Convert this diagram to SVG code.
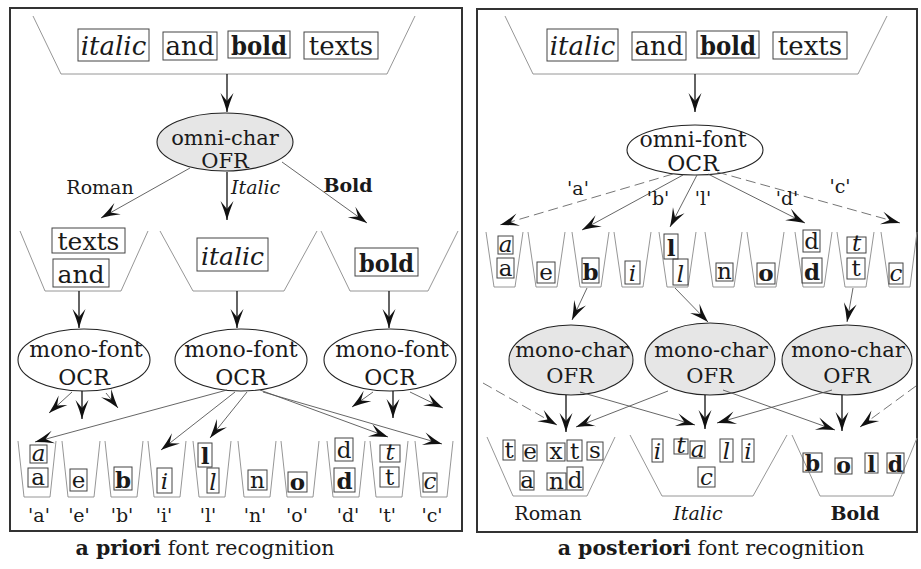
<svg xmlns="http://www.w3.org/2000/svg" width="921" height="569" viewBox="0 0 921 569">
<defs>
<style>
text{font-family:"DejaVu Serif","Liberation Serif",serif;fill:#1a1a1a;text-anchor:middle}
.it{font-style:italic}
.bd{font-weight:bold}
.frame{fill:none;stroke:#333;stroke-width:2}
.trap{fill:none;stroke:#8a8a8a;stroke-width:0.9}
.box{fill:none;stroke:#444;stroke-width:1}
.ov{fill:#fff;stroke:#222;stroke-width:1.1}
.ovg{fill:#e6e6e6;stroke:#222;stroke-width:1.1}
.c{fill:none;stroke:#555;stroke-width:0.9;marker-end:url(#ah)}
.cv{fill:none;stroke:#111;stroke-width:1.3;marker-end:url(#ah)}
.cd{fill:none;stroke:#666;stroke-width:0.9;stroke-dasharray:10 5;marker-end:url(#ah)}
.w{font-size:26px}
.m{font-size:25px}
.o{font-size:21px}
.ch{font-size:23px}
.mf{font-size:22px}
.lb{font-size:19px}
.cap{font-size:20.5px}
</style>
<marker id="ah" viewBox="-20 -8 22 16" refX="0" refY="0" markerWidth="22" markerHeight="16" markerUnits="userSpaceOnUse" orient="auto">
<path d="M0,0 Q-9,-2.5 -19,-6.5 L-11,0 L-19,6.5 Q-9,2.5 0,0 Z" fill="#111"/>
</marker>
</defs>
<rect width="921" height="569" fill="#fff"/>

<!-- frames -->
<rect class="frame" x="10" y="8" width="452" height="523"/>
<rect class="frame" x="477" y="9" width="440" height="523"/>

<!-- ================= LEFT PANEL ================= -->
<g id="L-input">
<polyline class="trap" points="33,16 61,74 387,74 415,16"/>
<rect class="box" x="78" y="29" width="71" height="32"/><text class="w it" x="113.5" y="55">italic</text>
<rect class="box" x="163" y="32" width="54" height="28"/><text class="w" x="190" y="55">and</text>
<rect class="box" x="228" y="31" width="62" height="27"/><text class="w bd" x="259" y="55" textLength="56" lengthAdjust="spacingAndGlyphs">bold</text>
<rect class="box" x="304" y="32" width="74" height="27"/><text class="w" x="341" y="55">texts</text>
</g>
<g id="L-omni">
<ellipse class="ovg" cx="225" cy="142" rx="68" ry="29"/>
<text class="o" x="225" y="145">omni-char</text>
<text class="o" x="225" y="168">OFR</text>
</g>
<g id="L-roman">
<polyline class="trap" points="20,231 45,291 121,291 148,231"/>
<rect class="box" x="52" y="228" width="73" height="25"/><text class="m" x="88.5" y="250">texts</text>
<rect class="box" x="53" y="259" width="56" height="28"/><text class="m" x="81" y="283">and</text>
</g>
<g id="L-italic">
<polyline class="trap" points="160,231 193,291 284,291 317,231"/>
<rect class="box" x="197" y="238" width="71" height="33"/><text class="m it" x="232.5" y="265">italic</text>
</g>
<g id="L-bold">
<polyline class="trap" points="321,231 350,291 428,291 458,231"/>
<rect class="box" x="355" y="248" width="63" height="28"/><text class="m bd" x="386.5" y="272" textLength="55" lengthAdjust="spacingAndGlyphs">bold</text>
</g>
<g id="L-mono1">
<ellipse class="ov" cx="84" cy="360" rx="66" ry="31"/>
<text class="mf" x="86" y="357">mono-font</text><text class="mf" x="84" y="385">OCR</text>
</g>
<g id="L-mono2">
<ellipse class="ov" cx="241" cy="360" rx="66" ry="31"/>
<text class="mf" x="241" y="357">mono-font</text><text class="mf" x="241" y="385">OCR</text>
</g>
<g id="L-mono3">
<ellipse class="ov" cx="390" cy="360" rx="66" ry="31"/>
<text class="mf" x="392" y="357">mono-font</text><text class="mf" x="390" y="385">OCR</text>
</g>

<!-- left bins -->
<g id="L-bin-a">
<polyline class="trap" points="18,441 24,497 50,497 56,441"/>
<rect class="box" x="30" y="445" width="17" height="18"/><text class="ch it" x="38.5" y="461">a</text>
<rect class="box" x="28" y="468" width="20" height="19"/><text class="ch" x="38" y="485">a</text>
</g>
<g id="L-bin-e">
<polyline class="trap" points="62,441 68,497 94,497 100,441"/>
<rect class="box" x="70" y="469" width="17" height="22"/><text class="ch" x="78.5" y="488">e</text>
</g>
<g id="L-bin-b">
<polyline class="trap" points="105,441 111,497 137,497 143,441"/>
<rect class="box" x="114" y="467" width="18" height="23"/><text class="ch bd" x="123" y="488">b</text>
</g>
<g id="L-bin-i">
<polyline class="trap" points="148,441 154,497 180,497 186,441"/>
<rect class="box" x="157" y="468" width="15" height="25"/><text class="ch it" x="164.5" y="489">i</text>
</g>
<g id="L-bin-l">
<polyline class="trap" points="193,441 199,497 225,497 231,441"/>
<rect class="box" x="198" y="443" width="14" height="24"/><text class="ch bd" x="205" y="464">l</text>
<rect class="box" x="207" y="468" width="12" height="25"/><text class="ch it" x="213" y="490">l</text>
</g>
<g id="L-bin-n">
<polyline class="trap" points="238,441 244,497 270,497 276,441"/>
<rect class="box" x="248" y="470" width="19" height="20"/><text class="ch" x="257.5" y="488">n</text>
</g>
<g id="L-bin-o">
<polyline class="trap" points="281,441 287,497 313,497 319,441"/>
<rect class="box" x="288" y="472" width="19" height="20"/><text class="ch bd" x="297.5" y="490">o</text>
</g>
<g id="L-bin-d">
<polyline class="trap" points="327,441 333,497 359,497 365,441"/>
<rect class="box" x="335" y="438" width="18" height="23"/><text class="ch" x="344" y="458">d</text>
<rect class="box" x="334" y="468" width="21" height="24"/><text class="ch bd" x="344.5" y="489">d</text>
</g>
<g id="L-bin-t">
<polyline class="trap" points="370,441 376,497 402,497 408,441"/>
<rect class="box" x="380" y="445" width="20" height="17"/><text class="ch it" x="390" y="460">t</text>
<rect class="box" x="380" y="467" width="19" height="20"/><text class="ch" x="389.5" y="485">t</text>
</g>
<g id="L-bin-c">
<polyline class="trap" points="415,441 421,497 447,497 453,441"/>
<rect class="box" x="423" y="473" width="14" height="19"/><text class="ch it" x="430" y="489">c</text>
</g>

<!-- ================= RIGHT PANEL ================= -->
<g id="R-input">
<polyline class="trap" points="505,16 533,74 858,74 887,16"/>
<rect class="box" x="547" y="29" width="71" height="32"/><text class="w it" x="582.5" y="55">italic</text>
<rect class="box" x="632" y="32" width="54" height="28"/><text class="w" x="659" y="55">and</text>
<rect class="box" x="697" y="31" width="62" height="27"/><text class="w bd" x="728" y="55" textLength="56" lengthAdjust="spacingAndGlyphs">bold</text>
<rect class="box" x="773" y="32" width="74" height="27"/><text class="w" x="810" y="55">texts</text>
</g>
<g id="R-omni">
<ellipse class="ov" cx="695" cy="150" rx="68" ry="25"/>
<text style="font-size:22px" x="693" y="147">omni-font</text>
<text style="font-size:22px" x="693" y="171">OCR</text>
</g>
<!-- right bins -->
<g id="R-bin-a">
<polyline class="trap" points="486,232 494,287 515,287 523,232"/>
<rect class="box" x="498" y="236" width="15" height="18"/><text class="ch it" x="505.5" y="252">a</text>
<rect class="box" x="497" y="258" width="17" height="20"/><text class="ch" x="505.5" y="276">a</text>
</g>
<g id="R-bin-e">
<polyline class="trap" points="528,232 536,287 557,287 565,232"/>
<rect class="box" x="537" y="262" width="18" height="21"/><text class="ch" x="546" y="280">e</text>
</g>
<g id="R-bin-b">
<polyline class="trap" points="572,232 580,287 601,287 609,232"/>
<rect class="box" x="582" y="258" width="17" height="25"/><text class="ch bd" x="590.5" y="280">b</text>
</g>
<g id="R-bin-i">
<polyline class="trap" points="614,232 622,287 643,287 651,232"/>
<rect class="box" x="625" y="261" width="15" height="23"/><text class="ch it" x="632.5" y="281">i</text>
</g>
<g id="R-bin-l">
<polyline class="trap" points="659,232 667,287 688,287 696,232"/>
<rect class="box" x="664" y="234" width="14" height="25"/><text class="ch bd" x="671" y="256">l</text>
<rect class="box" x="673" y="259" width="15" height="26"/><text class="ch it" x="680.5" y="282">l</text>
</g>
<g id="R-bin-n">
<polyline class="trap" points="705,232 713,287 734,287 742,232"/>
<rect class="box" x="716" y="263" width="17" height="18"/><text class="ch" x="724.5" y="279">n</text>
</g>
<g id="R-bin-o">
<polyline class="trap" points="747,232 755,287 776,287 784,232"/>
<rect class="box" x="757" y="263" width="18" height="21"/><text class="ch bd" x="766" y="281">o</text>
</g>
<g id="R-bin-d">
<polyline class="trap" points="795,232 803,287 824,287 832,232"/>
<rect class="box" x="803" y="230" width="17" height="22"/><text class="ch" x="811.5" y="249">d</text>
<rect class="box" x="802" y="258" width="20" height="25"/><text class="ch bd" x="812" y="280">d</text>
</g>
<g id="R-bin-t">
<polyline class="trap" points="837,232 845,287 866,287 874,232"/>
<rect class="box" x="847" y="237" width="19" height="16"/><text class="ch it" x="856.5" y="251">t</text>
<rect class="box" x="847" y="258" width="18" height="21"/><text class="ch" x="856" y="276">t</text>
</g>
<g id="R-bin-c">
<polyline class="trap" points="881,232 889,287 910,287 917,232"/>
<rect class="box" x="889" y="263" width="14" height="21"/><text class="ch it" x="896" y="281">c</text>
</g>
<g id="R-mc1">
<ellipse class="ovg" cx="571" cy="360" rx="62" ry="35"/>
<text class="o" x="572" y="357">mono-char</text><text class="o" x="570" y="383">OFR</text>
</g>
<g id="R-mc2">
<ellipse class="ovg" cx="710" cy="359" rx="65" ry="36"/>
<text class="o" x="711" y="357">mono-char</text><text class="o" x="710" y="383">OFR</text>
</g>
<g id="R-mc3">
<ellipse class="ovg" cx="847" cy="360" rx="65" ry="35"/>
<text class="o" x="848" y="357">mono-char</text><text class="o" x="847" y="383">OFR</text>
</g>
<g id="R-roman">
<polyline class="trap" points="487,437 513,496 587,496 615,437"/>
<rect class="box" x="503" y="440" width="12" height="20"/><text class="ch" x="509" y="458">t</text>
<rect class="box" x="523" y="445" width="14" height="16"/><text class="ch" x="530" y="459">e</text>
<rect class="box" x="547" y="443" width="18" height="18"/><text class="ch" x="556" y="459">x</text>
<rect class="box" x="567" y="440" width="15" height="21"/><text class="ch" x="574.5" y="459">t</text>
<rect class="box" x="587" y="442" width="16" height="18"/><text class="ch" x="595" y="458">s</text>
<rect class="box" x="520" y="471" width="14" height="19"/><text class="ch" x="527" y="488">a</text>
<rect class="box" x="547" y="473" width="19" height="17"/><text class="ch" x="556.5" y="489">n</text>
<rect class="box" x="567" y="467" width="16" height="23"/><text class="ch" x="575" y="488">d</text>
</g>
<g id="R-italic">
<polyline class="trap" points="630,435 662,496 753,496 787,435"/>
<rect class="box" x="652" y="439" width="11" height="23"/><text class="ch it" x="657.5" y="459">i</text>
<rect class="box" x="674" y="439" width="14" height="15"/><text class="ch it" x="681" y="453">t</text>
<rect class="box" x="690" y="441" width="15" height="17"/><text class="ch it" x="697.5" y="457">a</text>
<rect class="box" x="720" y="439" width="13" height="23"/><text class="ch it" x="726.5" y="459">l</text>
<rect class="box" x="742" y="439" width="12" height="23"/><text class="ch it" x="748" y="459">i</text>
<rect class="box" x="698" y="467" width="17" height="20"/><text class="ch it" x="706.5" y="485">c</text>
</g>
<g id="R-bold">
<polyline class="trap" points="792,435 820,496 893,496 917,438"/>
<rect class="box" x="803" y="453" width="19" height="19"/><text class="bd" style="font-size:22px" x="812.5" y="471">b</text>
<rect class="box" x="835" y="458" width="17" height="16"/><text class="bd" style="font-size:22px" x="843.5" y="473">o</text>
<rect class="box" x="865" y="453" width="13" height="20"/><text class="bd" style="font-size:22px" x="871.5" y="472">l</text>
<rect class="box" x="887" y="453" width="17" height="20"/><text class="bd" style="font-size:22px" x="895.5" y="472">d</text>
</g>

<!-- ================= CONNECTORS ================= -->
<g id="connectors">
<!-- left -->
<line class="cv" x1="227" y1="74" x2="227" y2="112"/>
<line class="c" x1="190" y1="168" x2="101" y2="218"/>
<line class="cv" x1="227" y1="172" x2="227" y2="220"/>
<line class="c" x1="282" y1="162" x2="367" y2="223"/>
<line class="cv" x1="79" y1="291" x2="79" y2="328"/>
<line class="cv" x1="237" y1="291" x2="237" y2="328"/>
<line class="cv" x1="389" y1="291" x2="389" y2="328"/>
<line class="c" x1="72" y1="392" x2="49" y2="413"/>
<line class="cv" x1="82" y1="391" x2="82" y2="419"/>
<line class="c" x1="106" y1="393" x2="118" y2="408"/>
<line class="c" x1="373" y1="392" x2="352" y2="407"/>
<line class="cv" x1="393" y1="391" x2="393" y2="418"/>
<line class="c" x1="410" y1="392" x2="443" y2="408"/>
<line class="c" x1="227" y1="390" x2="35" y2="442"/>
<line class="c" x1="235" y1="392" x2="161" y2="450"/>
<line class="c" x1="247" y1="392" x2="210" y2="438"/>
<line class="c" x1="260" y1="390" x2="388" y2="437"/>
<line class="c" x1="263" y1="392" x2="442" y2="444"/>
<!-- right -->
<line class="cv" x1="695" y1="74" x2="695" y2="112"/>
<line class="cd" x1="673" y1="174" x2="500" y2="225"/>
<line class="c" x1="683" y1="175" x2="582" y2="230"/>
<line class="c" x1="697" y1="175" x2="670" y2="227"/>
<line class="c" x1="708" y1="174" x2="805" y2="223"/>
<line class="cd" x1="717" y1="172" x2="900" y2="223"/>
<line class="c" x1="587" y1="288" x2="572" y2="320"/>
<line class="c" x1="675" y1="288" x2="708" y2="322"/>
<line class="c" x1="853" y1="288" x2="847" y2="322"/>
<line class="cd" x1="483" y1="383" x2="557" y2="425"/>
<line class="cv" x1="566" y1="395" x2="566" y2="432"/>
<line class="c" x1="668" y1="391" x2="576" y2="427"/>
<line class="c" x1="580" y1="392" x2="695" y2="425"/>
<line class="cv" x1="705" y1="395" x2="705" y2="429"/>
<line class="c" x1="832" y1="390" x2="717" y2="423"/>
<line class="c" x1="723" y1="390" x2="835" y2="430"/>
<line class="cv" x1="842" y1="395" x2="842" y2="431"/>
<line class="cd" x1="916" y1="386" x2="860" y2="427"/>
</g>

<!-- ================= LABELS ================= -->
<g id="labels">
<text class="lb" x="100" y="194">Roman</text>
<text class="lb it" x="231" y="194" style="text-anchor:start">Italic</text>
<text class="lb bd" x="348" y="192">Bold</text>
<text class="lb" x="39" y="522">'a'</text>
<text class="lb" x="79" y="522">'e'</text>
<text class="lb" x="122" y="522">'b'</text>
<text class="lb" x="164" y="522">'i'</text>
<text class="lb" x="208" y="522">'l'</text>
<text class="lb" x="255" y="522">'n'</text>
<text class="lb" x="297" y="522">'o'</text>
<text class="lb" x="348" y="522">'d'</text>
<text class="lb" x="387" y="522">'t'</text>
<text class="lb" x="432" y="522">'c'</text>
<text class="cap" x="205" y="555"><tspan class="bd">a priori</tspan>  font recognition</text>
<text class="lb" x="578" y="195">'a'</text>
<text class="lb" x="658" y="205">'b'</text>
<text class="lb" x="703" y="205">'l'</text>
<text class="lb" x="787" y="205">'d'</text>
<text class="lb" x="840" y="193">'c'</text>
<text class="lb" x="548" y="520">Roman</text>
<text class="lb it" x="698" y="520">Italic</text>
<text class="lb bd" x="855" y="520">Bold</text>
<text class="cap" x="711" y="555"><tspan class="bd">a posteriori</tspan>  font recognition</text>
</g>
</svg>
